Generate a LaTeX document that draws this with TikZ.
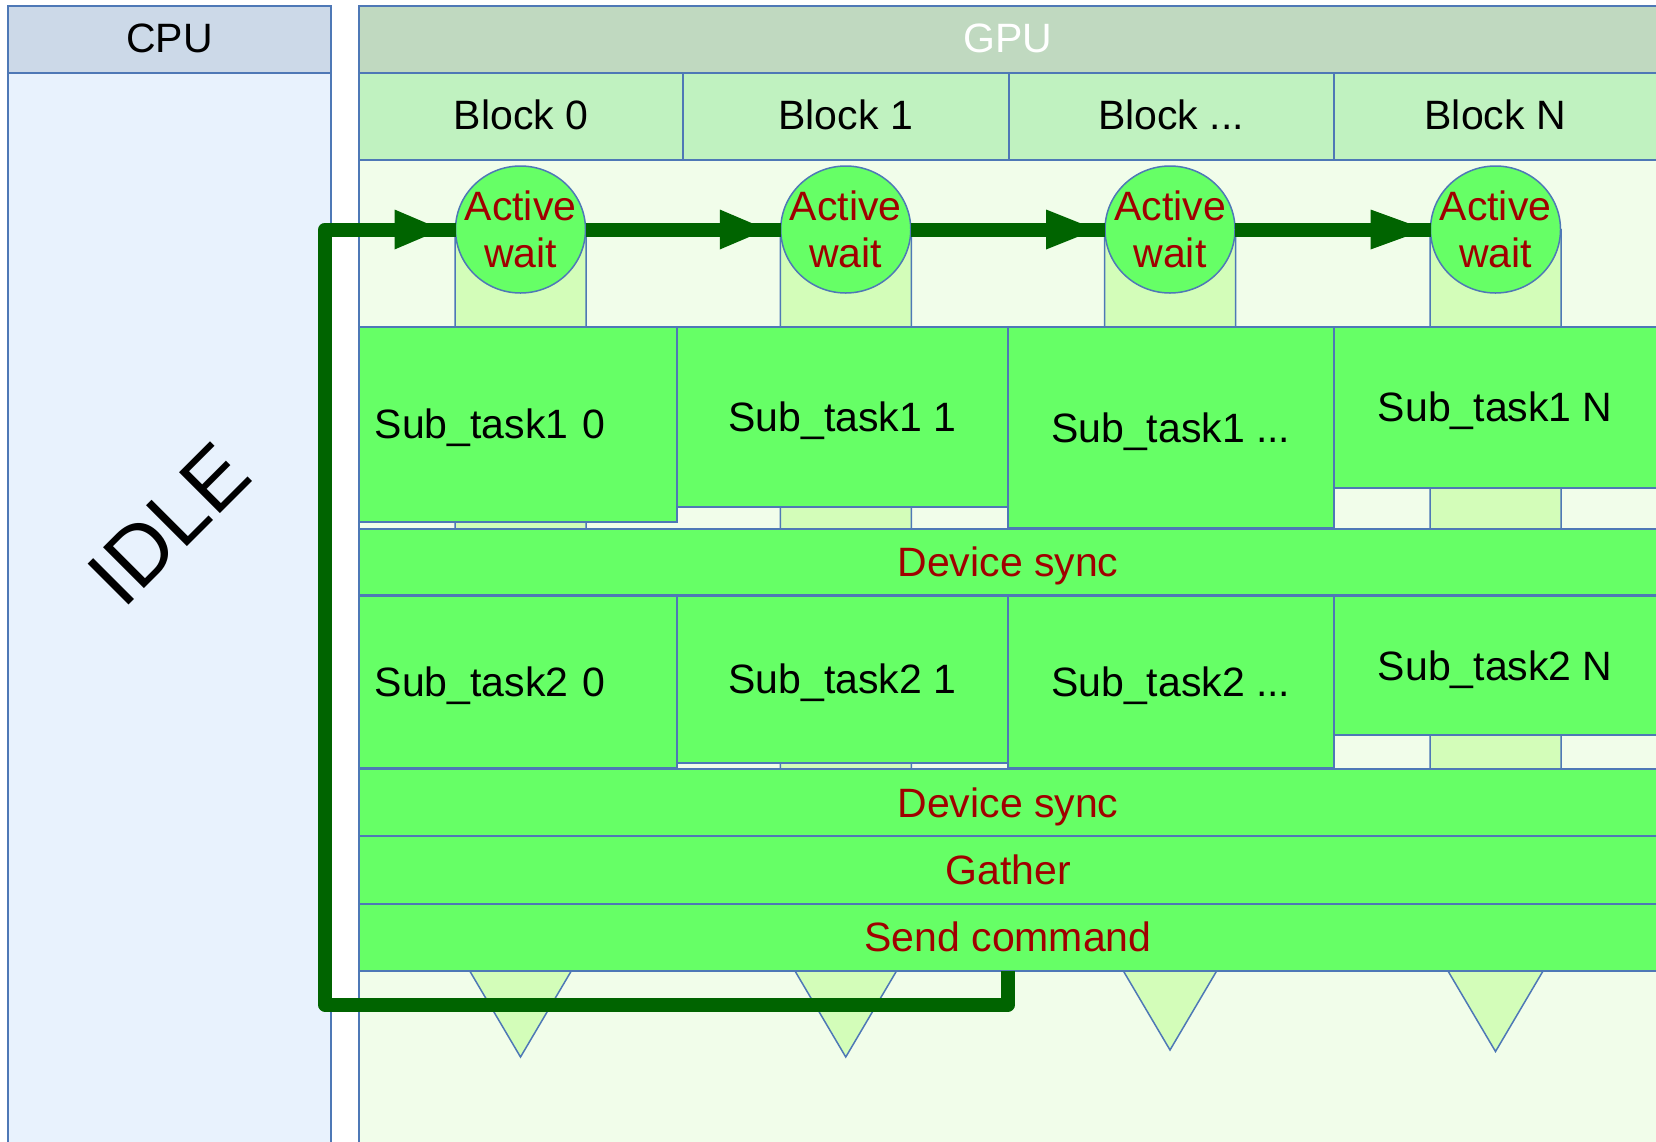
\documentclass[tikz,border=0pt]{standalone}
\usepackage{fontspec}
\setmainfont{Liberation Sans}
\usetikzlibrary{shapes.geometric,arrows.meta}

\definecolor{cpuhead}{HTML}{CCD9E8}
\definecolor{cpubody}{HTML}{E8F2FD}
\definecolor{gpuhead}{HTML}{C0D9C0}
\definecolor{blockrow}{HTML}{C0F2C0}
\definecolor{gpubody}{HTML}{F1FDEA}
\definecolor{lifefill}{HTML}{D3FDB9}
\definecolor{taskfill}{HTML}{66FF66}
\definecolor{edgeblue}{HTML}{4E78B6}
\definecolor{labelred}{HTML}{A00000}
\definecolor{flowgreen}{HTML}{006400}

\tikzset{
  bigtext/.style={font=\fontsize{41}{47}\selectfont},
  panel/.style={draw=edgeblue, line width=2pt, rectangle, inner sep=0pt,
    outer sep=0pt, anchor=north west, bigtext, text height=26pt, text depth=0pt},
  taskbox/.style={panel, fill=taskfill, text height=29pt},
  redlabel/.style={text=labelred},
  lifeline/.style={draw=edgeblue, line width=1.5pt, fill=lifefill, line join=miter},
  waitnode/.style={ellipse, draw=edgeblue, line width=1.5pt, fill=taskfill,
    minimum width=130pt, minimum height=127pt, inner sep=0pt, outer sep=0pt},
  waittext/.style={inner sep=0pt, align=center, bigtext, redlabel},
  flow/.style={draw=flowgreen, line width=14pt, line join=round},
  flowtip/.style={flow, -{Triangle[length=#1, width=40pt, line width=0pt]}},
  flowtip/.default=47pt
}

\begin{document}
\begin{tikzpicture}[x=1pt, y=-1pt]
\useasboundingbox (0,0) rectangle (1656,1141);
\clip (0,0) rectangle (1656,1141);
\fill[white] (0,0) rectangle (1656,1141);

% CPU lane
\node[panel, fill=cpubody, minimum width=323pt, minimum height=1100pt] (cpu) at (8,73) {};
\node[panel, fill=cpuhead, minimum width=323pt, minimum height=67pt] (cpuhead) at (8,6) {CPU};
\node[rotate=45, font=\fontsize{84}{100}\selectfont, inner sep=0pt] (idle) at (169,524) {IDLE};

% GPU lane
\node[panel, fill=gpubody, minimum width=1298pt, minimum height=1100pt] (gpu) at (359,73) {};
\node[panel, fill=gpuhead, minimum width=1298pt, minimum height=67pt, text=white] (gpuhead) at (359,6) {GPU};

% block headers
\node[panel, fill=blockrow, minimum width=324pt, minimum height=87pt] (b0) at (359,73) {Block 0};
\node[panel, fill=blockrow, minimum width=325.5pt, minimum height=87pt] (b1) at (683,73) {Block 1};
\node[panel, fill=blockrow, minimum width=325pt, minimum height=87pt] (b2) at (1008.5,73) {Block ...};
\node[panel, fill=blockrow, minimum width=323.5pt, minimum height=87pt] (b3) at (1333.5,73) {Block N};

% life lines of the blocks, ending in a downward point
\foreach \cx/\ya in {520.5/1057, 845.75/1057, 1170/1050, 1495.5/1051.5}{
  \draw[lifeline] ({\cx-65.5},229.5) -- ({\cx-65.5},880) -- ({\cx-(\ya-880)*0.59},880)
    -- (\cx,\ya) -- ({\cx+(\ya-880)*0.59},880) -- ({\cx+65.5},880) -- ({\cx+65.5},229.5) -- cycle;
}

% active-wait states
\node[waitnode] (a0) at (520.5,229.5) {};
\node[waitnode] (a1) at (845.75,229.5) {};
\node[waitnode] (a2) at (1170,229.5) {};
\node[waitnode] (a3) at (1495.5,229.5) {};
\node[waittext] (a0t) at (a0.center) {Active\\wait};
\node[waittext] (a1t) at (a1.center) {Active\\wait};
\node[waittext] (a2t) at (a2.center) {Active\\wait};
\node[waittext] (a3t) at (a3.center) {Active\\wait};

% hand-over between blocks
\draw[flow] (a0.east) -- (a1.west);
\draw[flow] (a1.east) -- (a2.west);
\draw[flow] (a2.east) -- (a3.west);
\draw[flowtip] (a0.east) -- ([xshift=-14pt]a1.west);
\draw[flowtip=50pt] (a1.east) -- ([xshift=-9pt]a2.west);
\draw[flowtip=55pt] (a2.east) -- ([xshift=-5pt]a3.west);

% first sub-task per block
\node[taskbox, minimum width=317.7pt, minimum height=195pt, text width=285.7pt,
  inner xsep=16pt, align=left] (t10) at (358.8,326.7) {Sub\_task1 0};
\node[taskbox, minimum width=331.5pt, minimum height=180.6pt] (t11) at (676.5,326.7) {Sub\_task1 1};
\node[taskbox, minimum width=325.5pt, minimum height=201.6pt] (t12) at (1008,326.7) {Sub\_task1 ...};
\node[taskbox, minimum width=323.5pt, minimum height=161pt] (t13) at (1333.5,326.7) {Sub\_task1 N};

\node[taskbox, redlabel, minimum width=1298pt, minimum height=66.6pt] (sync1) at (359,528.7) {Device sync};

% second sub-task per block
\node[taskbox, minimum width=317.7pt, minimum height=172.3pt, text width=285.7pt,
  inner xsep=16pt, align=left] (t20) at (358.8,596) {Sub\_task2 0};
\node[taskbox, minimum width=331.5pt, minimum height=166.7pt] (t21) at (676.5,596) {Sub\_task2 1};
\node[taskbox, minimum width=325.5pt, minimum height=172.3pt] (t22) at (1008,596) {Sub\_task2 ...};
\node[taskbox, minimum width=323.5pt, minimum height=139pt] (t23) at (1333.5,596) {Sub\_task2 N};

\node[taskbox, redlabel, minimum width=1298pt, minimum height=66.7pt] (sync2) at (359,769.3) {Device sync};
\node[taskbox, redlabel, minimum width=1298pt, minimum height=68pt] (gather) at (359,836) {Gather};
\node[taskbox, redlabel, minimum width=1298pt, minimum height=66.7pt] (send) at (359,904) {Send command};

% loop back to the first block
\coordinate (lc) at (325,1004.5);
\draw[flow] (send.south) |- (lc) |- (a0.west);
\draw[flowtip] (lc |- a0.west) -- ([xshift=-14pt]a0.west);
\end{tikzpicture}
\end{document}
